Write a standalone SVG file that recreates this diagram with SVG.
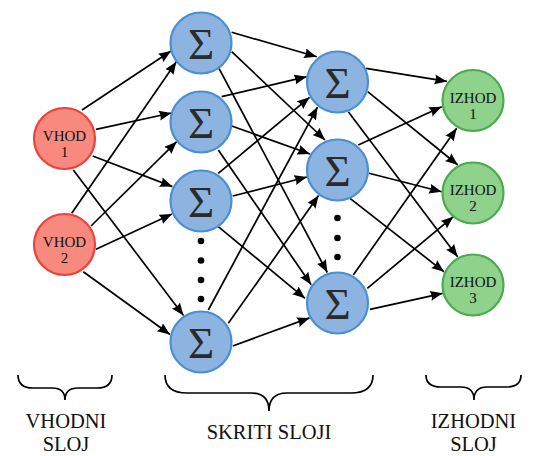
<svg xmlns="http://www.w3.org/2000/svg" width="542" height="456" viewBox="0 0 542 456" font-family="'Liberation Serif', 'Times New Roman', serif">
<style>
.in circle{fill:#f8897f;stroke:#f0403b;stroke-width:2.2}
.hid circle{fill:#8db4e1;stroke:#4a8fd2;stroke-width:2.2}
.out circle{fill:#8ed28b;stroke:#4aab4f;stroke-width:2.2}
text{font-family:'Liberation Serif','Times New Roman',serif}
.lbl{font-size:15px;fill:#111;text-anchor:middle}
.sig{font-size:45px;fill:#2b2b2b;text-anchor:middle}
.cap{font-size:20.5px;fill:#111;text-anchor:middle}
#edges line{stroke:#000;stroke-width:1.7;marker-end:url(#ah)}
.brace{fill:none;stroke:#000;stroke-width:1.7}
.dot{fill:#000}
</style>
<defs>
<marker id="ah" markerUnits="userSpaceOnUse" markerWidth="14" markerHeight="12" refX="12.5" refY="5" orient="auto">
<path d="M0,0 L12.5,5 L0,10 Q2.5,5 0,0 z" fill="#000"/>
</marker>
</defs>
<rect width="542" height="456" fill="#fff"/>
<g id="edges">
<line x1="82" y1="110" x2="171" y2="51"/>
<line x1="96" y1="129.3" x2="171.5" y2="113"/>
<line x1="92.7" y1="156" x2="172.4" y2="186.6"/>
<line x1="73.3" y1="170" x2="183.5" y2="315.5"/>
<line x1="71.7" y1="213.3" x2="176.4" y2="61.8"/>
<line x1="91" y1="226" x2="176.7" y2="141.7"/>
<line x1="96" y1="249.3" x2="172" y2="214.1"/>
<line x1="83.3" y1="271.7" x2="170" y2="334.5"/>
<line x1="231.7" y1="32.3" x2="316.7" y2="56.7"/>
<line x1="231.7" y1="51.7" x2="325" y2="140"/>
<line x1="219" y1="68.3" x2="327.3" y2="272.5"/>
<line x1="221.7" y1="96.7" x2="306.7" y2="76.7"/>
<line x1="231.7" y1="126" x2="310" y2="154"/>
<line x1="218.3" y1="150" x2="311.2" y2="284.7"/>
<line x1="218.3" y1="173.3" x2="309.5" y2="97.3"/>
<line x1="232.7" y1="196" x2="307" y2="177"/>
<line x1="218.3" y1="226.7" x2="305" y2="298.3"/>
<line x1="208.3" y1="310" x2="317.5" y2="107.1"/>
<line x1="228.3" y1="323.3" x2="318.6" y2="195.6"/>
<line x1="232.7" y1="346" x2="309.5" y2="317.9"/>
<line x1="366" y1="68.3" x2="447" y2="81.4"/>
<line x1="367.7" y1="91.7" x2="457.8" y2="165"/>
<line x1="348.3" y1="111.7" x2="457.6" y2="256.8"/>
<line x1="358.3" y1="145" x2="441.7" y2="106.7"/>
<line x1="369" y1="173.3" x2="441.7" y2="191.7"/>
<line x1="350" y1="198.3" x2="444" y2="271.8"/>
<line x1="353.3" y1="275" x2="456.7" y2="128.3"/>
<line x1="367.3" y1="288.3" x2="453.3" y2="216.7"/>
<line x1="370" y1="309.3" x2="442.7" y2="293.3"/>
</g>
<g id="in1" class="in"><circle cx="64.5" cy="138.5" r="30.5"/><text class="lbl" x="64.5" y="141">VHOD</text><text class="lbl" x="64.5" y="157">1</text></g>
<g id="in2" class="in"><circle cx="64.5" cy="244.5" r="30.5"/><text class="lbl" x="64.5" y="247">VHOD</text><text class="lbl" x="64.5" y="263">2</text></g>
<g id="h1a" class="hid"><circle cx="201" cy="43" r="30.5"/><text class="sig" x="201" y="59">Σ</text></g>
<g id="h1b" class="hid"><circle cx="201" cy="122" r="30.5"/><text class="sig" x="201" y="138">Σ</text></g>
<g id="h1c" class="hid"><circle cx="201" cy="201" r="30.5"/><text class="sig" x="201" y="217">Σ</text></g>
<g id="h1d" class="hid"><circle cx="201" cy="342" r="30.5"/><text class="sig" x="201" y="358">Σ</text></g>
<g id="h2a" class="hid"><circle cx="337.5" cy="82" r="30.5"/><text class="sig" x="337.5" y="98">Σ</text></g>
<g id="h2b" class="hid"><circle cx="337.5" cy="170" r="30.5"/><text class="sig" x="337.5" y="186">Σ</text></g>
<g id="h2c" class="hid"><circle cx="337.5" cy="303" r="30.5"/><text class="sig" x="337.5" y="319">Σ</text></g>
<g id="o1" class="out"><circle cx="473" cy="100.5" r="30.5"/><text class="lbl" x="473" y="102.5">IZHOD</text><text class="lbl" x="473" y="118.5">1</text></g>
<g id="o2" class="out"><circle cx="473" cy="193" r="30.5"/><text class="lbl" x="473" y="195">IZHOD</text><text class="lbl" x="473" y="211">2</text></g>
<g id="o3" class="out"><circle cx="473" cy="285" r="30.5"/><text class="lbl" x="473" y="287">IZHOD</text><text class="lbl" x="473" y="303">3</text></g>
<g id="dots1"><circle class="dot" cx="201" cy="241" r="3.3"/><circle class="dot" cx="201" cy="260.5" r="3.3"/><circle class="dot" cx="201" cy="280" r="3.3"/><circle class="dot" cx="201" cy="299" r="3.3"/></g>
<g id="dots2"><circle class="dot" cx="337.5" cy="218" r="3.3"/><circle class="dot" cx="337.5" cy="238" r="3.3"/><circle class="dot" cx="337.5" cy="257" r="3.3"/></g>
<g id="brace-in"><path class="brace" d="M18,375 Q18,388 33,388 L52,388 Q65,388 65,400 Q65,388 78,388 L97,388 Q112,388 112,375"/><text class="cap" x="66" y="428">VHODNI</text><text class="cap" x="66" y="451">SLOJ</text></g>
<g id="brace-hid"><path class="brace" d="M165,375 Q165,393 187,393 L251,393 Q269,393 269,411 Q269,393 287,393 L351,393 Q373,393 373,375"/><text class="cap" x="269" y="439">SKRITI SLOJI</text></g>
<g id="brace-out"><path class="brace" d="M426,375 Q426,387 441,387 L461,387 Q474,387 474,400 Q474,387 487,387 L506,387 Q521,387 521,375"/><text class="cap" x="473.5" y="428">IZHODNI</text><text class="cap" x="473.5" y="451">SLOJ</text></g>
</svg>
